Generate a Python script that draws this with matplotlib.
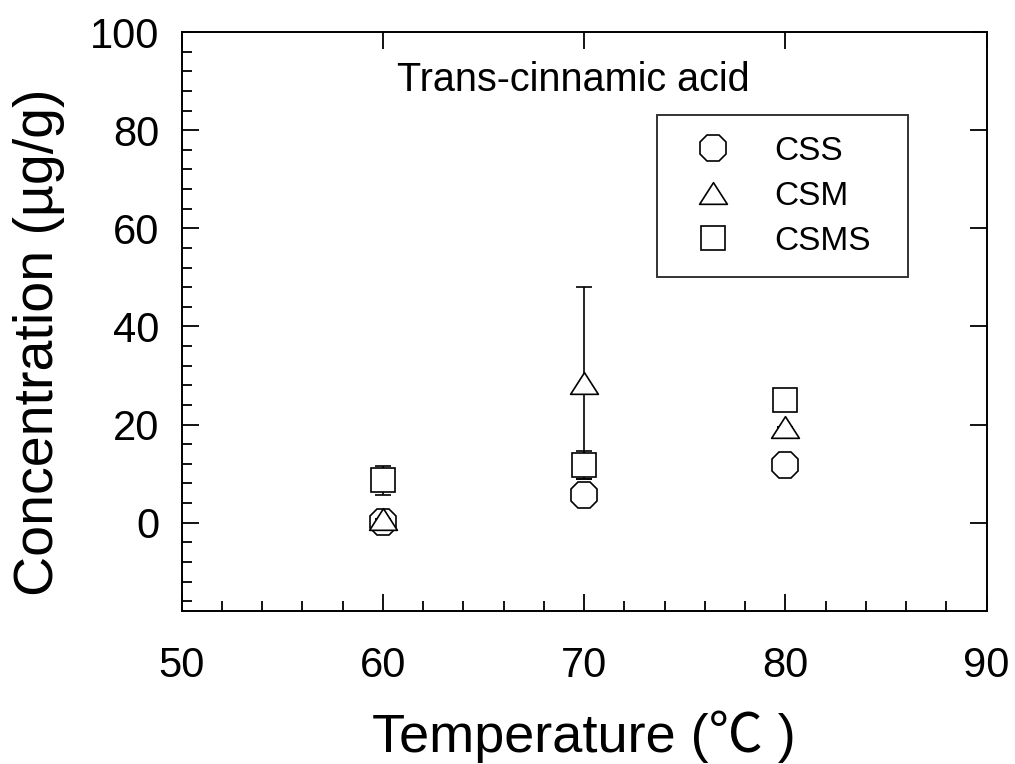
import matplotlib
matplotlib.use("Agg")
import matplotlib.pyplot as plt
from matplotlib.path import Path
from matplotlib.lines import Line2D
from matplotlib.ticker import MultipleLocator

plt.rcParams['font.family'] = ['Liberation Sans', 'Noto Sans CJK SC', 'DejaVu Sans']

# Extraction temperatures (deg C)
temperature = [60, 70, 80]

# Trans-cinnamic acid concentration (ug/g) and standard deviations
css_mean = [0.2, 5.6, 11.8]
css_err = [0.0, 0.0, 0.0]
csm_mean = [0.8, 28.5, 19.6]
csm_err = [0.0, 19.5, 0.0]
csms_mean = [8.6, 11.7, 25.1]
csms_err = [2.9, 2.9, 0.0]

series_labels = ["CSS", "CSM", "CSMS"]

# wide, flat triangle like the original plotting software
tri = Path([(-1.0, -0.78), (1.0, -0.78), (0.0, 0.78), (-1.0, -0.78)],
           [Path.MOVETO, Path.LINETO, Path.LINETO, Path.CLOSEPOLY])
markers = ['8', tri, 's']
sizes = [21, 20, 17]

fig = plt.figure(figsize=(10.15, 7.64), dpi=100)
ax = fig.add_axes([0.179, 0.2003, 0.7931, 0.7577])

style = dict(linestyle='none', mfc='white', mec='black', mew=1.2)
bar_style = dict(ecolor='black', elinewidth=1.2, capsize=5.8, capthick=1.2)

handles = []
for i, (mean, err) in enumerate([(css_mean, css_err), (csm_mean, csm_err),
                                 (csms_mean, csms_err)]):
    ax.errorbar(temperature, mean, yerr=err, marker=markers[i], ms=sizes[i],
                zorder=3 + i, **style, **bar_style)
    handles.append(Line2D([], [], marker=markers[i], ms=sizes[i],
                          label=series_labels[i], **style))

ax.set_xlim(50, 90)
ax.set_ylim(-18, 100)
ax.xaxis.set_major_locator(MultipleLocator(10))
ax.xaxis.set_minor_locator(MultipleLocator(2))
ax.yaxis.set_major_locator(MultipleLocator(20))
ax.yaxis.set_minor_locator(MultipleLocator(4))

for s in ax.spines.values():
    s.set_linewidth(1.4)

ax.tick_params(which='both', direction='in', top=True, right=True, width=1.3)
ax.tick_params(which='major', length=12)
ax.tick_params(which='minor', length=7, top=False, right=False)
ax.tick_params(axis='x', which='major', labelsize=30, pad=25)
ax.tick_params(axis='y', which='major', labelsize=30, pad=16)

ax.set_xlabel("Temperature (\u2103 )", fontsize=39)
ax.set_ylabel("Concentration (\u00b5g/g)", fontsize=40)
ax.xaxis.set_label_coords(0.5, -0.172)
ax.yaxis.set_label_coords(-0.145, 0.465)

ax.text(0.486, 0.918, "Trans-cinnamic acid", transform=ax.transAxes,
        fontsize=28.5, ha='center', va='center')

leg = ax.legend(handles=handles, loc='upper left',
                bbox_to_anchor=(0.591, 0.580, 0.311, 0.277),
                mode='expand', fontsize=24, frameon=True, fancybox=False,
                edgecolor='black', borderpad=0.62, handlelength=2.1,
                handletextpad=0.78, labelspacing=0.42, borderaxespad=0)
leg.get_frame().set_linewidth(1.4)

fig.savefig("out.png", dpi=100)
